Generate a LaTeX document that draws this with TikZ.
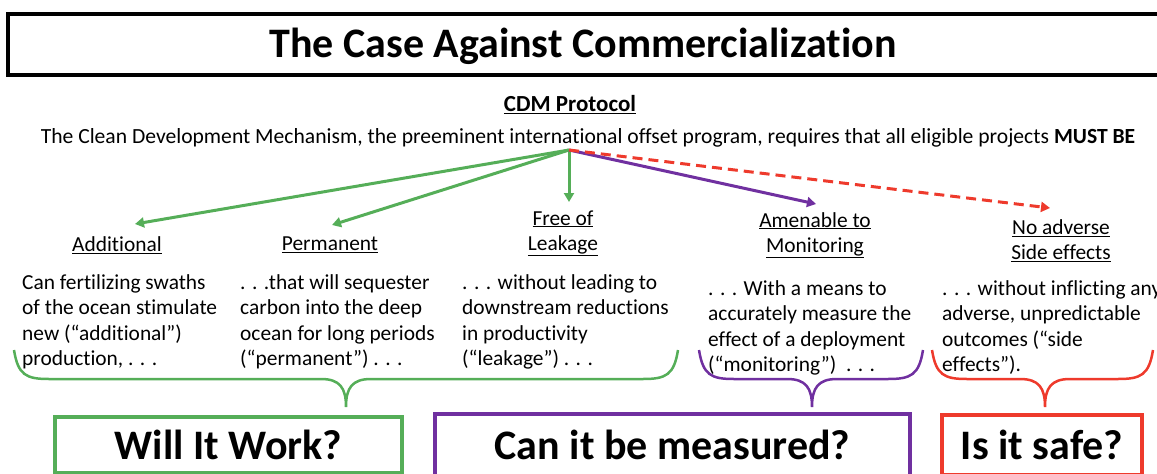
\documentclass[tikz,border=0pt]{standalone}
\usepackage{fontspec}
\setmainfont{Carlito}[Ligatures=NoCommon]
\usetikzlibrary{arrows.meta,positioning}
\definecolor{cacgreen}{HTML}{55AE58}
\definecolor{cacpurple}{HTML}{7030A0}
\definecolor{cacred}{HTML}{EE3A2C}
\tikzset{
  lbl/.style={font=\fontsize{21.4}{25}\selectfont,inner sep=0pt,align=center},
  body/.style={font=\fontsize{21.4}{25.6}\selectfont,inner sep=0pt,align=left,anchor=north west},
  verdict/.style={draw=#1,line width=4pt,font=\fontsize{42}{48}\selectfont\bfseries,inner sep=0pt},
  ar/.style={-{Triangle[length=9pt,width=10pt]},draw=#1,line width=3pt},
  brace/.style={draw=#1,line width=2.5pt},
}

\begin{document}
\begin{tikzpicture}[x=1pt,y=-1pt]
  \clip (0,0) rectangle (1157,474);
  % title bar
  \draw[line width=4.5pt] (8,14) rectangle (1185,75);
  \node[font=\fontsize{42}{48}\selectfont\bfseries,inner sep=0pt] (title) at (583,46) {The Case Against Commercialization};
  % protocol line
  \node[lbl,font=\fontsize{23}{26}\selectfont\bfseries] (cdm) at (570,105) {\underline{CDM Protocol}};
  \node[lbl,anchor=base,font=\fontsize{21.6}{25}\selectfont] (cdmtext) at (588,143) {The Clean Development Mechanism, the preeminent international offset program, requires that all eligible projects \textbf{MUST BE}};
  \coordinate (src) at (569,150);
  % criteria
  \node[lbl] (add) at (117,245) {\underline{Additional}};
  \node[lbl] (perm) at (330,245) {\underline{Permanent}};
  \node[lbl] (leak) at (563,233) {\underline{Free of}\\\underline{Leakage}};
  \node[lbl] (mon) at (815,235) {\underline{Amenable to}\\\underline{Monitoring}};
  \node[lbl] (side) at (1061,241) {\underline{No adverse}\\\underline{Side effects}};
  \draw[ar=cacgreen] (src) -- ([shift={(18,-21)}]add.center);
  \draw[ar=cacgreen] (src) -- ([shift={(2,-20)}]perm.center);
  \draw[ar=cacgreen] (src) -- ([shift={(6,-31)}]leak.center);
  \draw[ar=cacpurple] (src) -- ([shift={(1,-31)}]mon.center);
  \draw[ar=cacred,dashed,dash pattern=on 10pt off 6pt] (src) -- ([shift={(-11,-33)}]side.center);
  % explanations
  \node[body] (t1) at (22,274) {Can fertilizing swaths\\of the ocean stimulate\\new (“additional”)\\production, . . .};
  \node[body] (t2) at (240,274) {. . .that will sequester\\carbon into the deep\\ocean for long periods\\(“permanent”) . . .};
  \node[body] (t3) at (462,274) {. . . without leading to\\downstream reductions\\in productivity\\(“leakage”) . . .};
  \node[body] (t4) at (708,280) {. . . With a means to\\accurately measure the\\effect of a deployment\\(“monitoring”) \ . . .};
  \node[body] (t5) at (942,280) {. . . without inflicting any\\adverse, unpredictable\\outcomes (“side\\effects”).};
  % braces
  \foreach \l/\m/\r/\c in {14/346/678/cacgreen, 699/812/923/cacpurple, 932/1045/1153/cacred} {
    \draw[brace=\c] (\l,350) .. controls (\l+4,375) and (\l+12,379) .. (\l+35,379) -- (\m-25,379)
      .. controls (\m-6,379) and (\m,388) .. (\m,407) .. controls (\m,388) and (\m+6,379) .. (\m+25,379)
      -- (\r-35,379) .. controls (\r-12,379) and (\r-4,375) .. (\r,350);
  }
  % questions
  \node[verdict=cacgreen,minimum width=347pt,minimum height=56pt] (work) at (228.5,445) {Will It Work?};
  \node[verdict=cacpurple,minimum width=475pt,minimum height=63pt] (meas) at (672.5,445) {Can it be measured?};
  \node[verdict=cacred,minimum width=200pt,minimum height=60pt] (safe) at (1042,445) {Is it safe?};
\end{tikzpicture}
\end{document}
